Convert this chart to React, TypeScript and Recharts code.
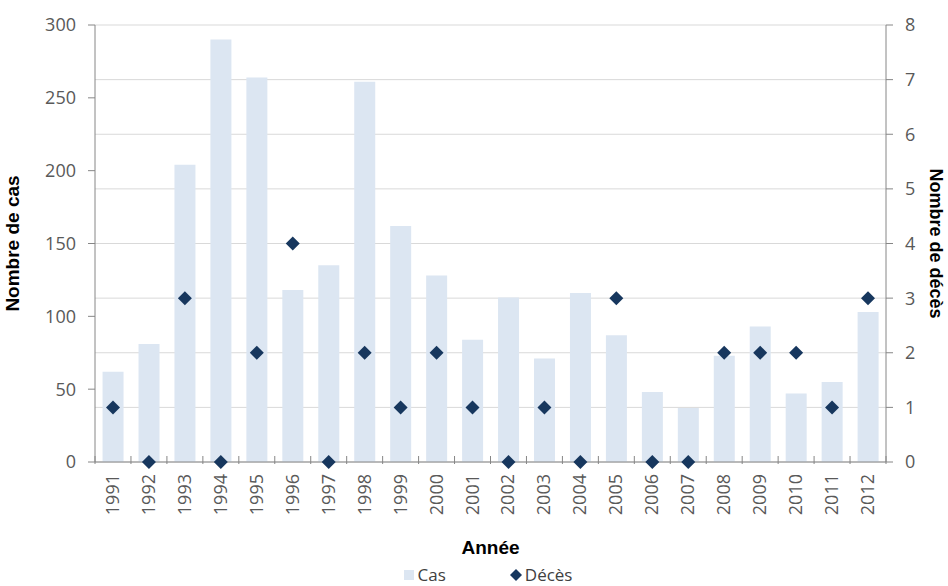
import {
  ComposedChart, Bar, Scatter, XAxis, YAxis, CartesianGrid, Legend
} from 'recharts';

const years = [
  '1991', '1992', '1993', '1994', '1995', '1996', '1997', '1998', '1999', '2000', '2001',
  '2002', '2003', '2004', '2005', '2006', '2007', '2008', '2009', '2010', '2011', '2012',
];
const cas = [62, 81, 204, 290, 264, 118, 135, 261, 162, 128, 84, 113, 71, 116, 87, 48, 37, 73, 93, 47, 55, 103];
const deces = [1, 0, 3, 0, 2, 4, 0, 2, 1, 2, 1, 0, 1, 0, 3, 0, 0, 2, 2, 2, 1, 3];
const casTicks = [0, 50, 100, 150, 200, 250, 300];
const decesTicks = [0, 1, 2, 3, 4, 5, 6, 7, 8];

const data = years.map((year, i) => ({ year, cas: cas[i], deces: deces[i] }));

const BAR = '#dce6f2';
const DOT = '#17375e';
const AXIS = '#868686';
const TICK_TEXT = '#595959';
const STEP = (886 - 95) / years.length;

const Diamond = ({ cx, cy }: any) => {
  if (cx == null || cy == null) return null;
  const r = 7;
  return (
    <polygon
      points={`${cx},${cy - r} ${cx + r},${cy} ${cx},${cy + r} ${cx - r},${cy}`}
      fill={DOT}
    />
  );
};

const YearTick = ({ x, y, payload, index }: any) => {
  const left = x - STEP / 2;
  const isLast = index === years.length - 1;
  return (
    <g>
      <line x1={left} y1={y - 8} x2={left} y2={y} stroke={AXIS} />
      {isLast && <line x1={x + STEP / 2} y1={y - 8} x2={x + STEP / 2} y2={y} stroke={AXIS} />}
      <text
        x={0}
        y={0}
        transform={`translate(${x + 6}, ${y + 10}) rotate(-90)`}
        textAnchor="end"
        fill={TICK_TEXT}
        fontSize={18}
        fontFamily="Open Sans"
      >
        {payload.value}
      </text>
    </g>
  );
};

const LegendContent = () => (
  <div style={{ display: 'flex', justifyContent: 'center', gap: 64, paddingTop: 6, paddingLeft: 28, fontFamily: 'Open Sans', fontSize: 17, color: '#404040' }}>
    <div style={{ display: 'flex', alignItems: 'center', gap: 4 }}>
      <div style={{ width: 10, height: 10, background: BAR }} />
      <span>Cas</span>
    </div>
    <div style={{ display: 'flex', alignItems: 'center', gap: 3 }}>
      <svg width={12} height={12}>
        <polygon points="6,0 12,6 6,12 0,6" fill={DOT} />
      </svg>
      <span>Décès</span>
    </div>
  </div>
);

export default function App() {
  return (
    <div style={{ position: 'absolute', left: 0, top: 0, background: '#fff' }}>
      <ComposedChart
        width={948}
        height={586}
        data={data}
        margin={{ top: 25, right: 0, bottom: 0, left: 0 }}
        barCategoryGap="21%"
      >
        <CartesianGrid yAxisId="right" vertical={false} stroke="#d9d9d9" />
        <XAxis
          dataKey="year"
          height={95}
          axisLine={{ stroke: AXIS }}
          tickLine={false}
          tickSize={0}
          interval={0}
          tick={<YearTick />}
          label={{
            value: 'Année',
            position: 'insideBottom',
            offset: 3,
            style: { fontFamily: 'Liberation Sans', fontWeight: 'bold', fontSize: 19, fill: '#000' },
          }}
        />
        <YAxis
          yAxisId="left"
          width={95}
          domain={[0, 300]}
          ticks={casTicks}
          axisLine={{ stroke: AXIS }}
          tickLine={{ stroke: AXIS }}
          tickSize={7}
          tickMargin={12}
          tick={{ fill: TICK_TEXT, fontSize: 18, fontFamily: 'Open Sans' }}
          label={{
            value: 'Nombre de cas',
            angle: -90,
            position: 'insideLeft',
            offset: 12,
            style: { textAnchor: 'middle', fontFamily: 'Liberation Sans', fontWeight: 'bold', fontSize: 19, fill: '#000' },
          }}
        />
        <YAxis
          yAxisId="right"
          orientation="right"
          width={62}
          domain={[0, 8]}
          ticks={decesTicks}
          axisLine={{ stroke: AXIS }}
          tickLine={{ stroke: AXIS }}
          tickSize={7}
          tickMargin={12}
          tick={{ fill: TICK_TEXT, fontSize: 18, fontFamily: 'Open Sans' }}
          label={{
            value: 'Nombre de décès',
            angle: 90,
            position: 'insideRight',
            offset: 12,
            style: { textAnchor: 'middle', fontFamily: 'Liberation Sans', fontWeight: 'bold', fontSize: 18, fill: '#000' },
          }}
        />
        <Legend verticalAlign="bottom" height={29} content={<LegendContent />} />
        <Bar yAxisId="left" dataKey="cas" name="Cas" fill={BAR} isAnimationActive={false} />
        <Scatter yAxisId="right" dataKey="deces" name="Décès" fill={DOT} shape={<Diamond />} isAnimationActive={false} />
      </ComposedChart>
    </div>
  );
}
